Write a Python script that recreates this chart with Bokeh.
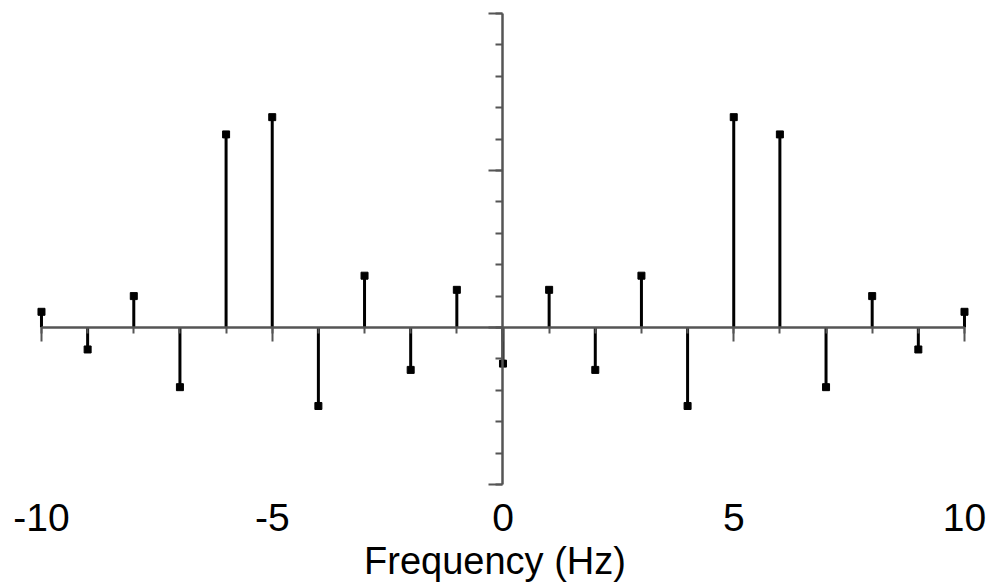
from bokeh.plotting import figure
from bokeh.models import Range1d, LinearAxis, FixedTicker
from bokeh.embed import file_html
from bokeh.resources import INLINE

# Data
freq = list(range(-10, 11))
amp = [0.10, -0.14, 0.20, -0.38, 1.23, 1.34, -0.50, 0.33, -0.27, 0.24, -0.23,
       0.24, -0.27, 0.33, -0.50, 1.34, 1.23, -0.38, 0.20, -0.14, 0.10]
zeros = [0.0] * len(freq)

x_tick_labels = [-10, -5, 0, 5, 10]
x_minor_ticks = list(range(-10, 11))
y_major_ticks = [-1, 0, 1, 2]
y_minor_ticks = [round(-1 + 0.2 * i, 1) for i in range(16)]

AXIS_COLOR = "#555555"
FONT = "Liberation Sans"

p = figure(width=989, height=587,
           x_range=Range1d(-10.888, 10.542),
           y_range=Range1d(-1.051, 2.083),
           x_axis_type=None, y_axis_type=None,
           output_backend="svg", toolbar_location=None,
           min_border_left=0, min_border_right=0, min_border_top=0,
           min_border_bottom=95)
p.outline_line_color = None
p.xgrid.visible = False
p.ygrid.visible = False
p.background_fill_color = "white"
p.border_fill_color = "white"

# stems and markers
p.segment(x0=freq, y0=zeros, x1=freq, y1=amp, line_color="black", line_width=3)
p.scatter(x=freq, y=amp, marker="square", size=7, color="black")


def tick_axis(ticks, length, draw_line):
    ax = LinearAxis(fixed_location=0,
                    ticker=FixedTicker(ticks=[], minor_ticks=ticks),
                    axis_line_color=AXIS_COLOR if draw_line else None,
                    axis_line_width=2.5,
                    major_tick_line_color=None,
                    minor_tick_line_color=AXIS_COLOR, minor_tick_line_width=2,
                    minor_tick_in=0, minor_tick_out=length)
    return ax


# horizontal axis through y = 0
xc1 = tick_axis(x_minor_ticks, 6, True)
xc1.bounds = (-10, 10)
xc2 = tick_axis(x_tick_labels, 14, False)
xc2.bounds = (-10, 10)
p.add_layout(xc1, "below")
p.add_layout(xc2, "below")

# vertical axis through x = 0
yc1 = tick_axis(y_minor_ticks, 7, True)
yc1.bounds = (-1, 2)
yc2 = tick_axis(y_major_ticks, 14, False)
yc2.bounds = (-1, 2)
p.add_layout(yc1, "left")
p.add_layout(yc2, "left")

# label axis at bottom
xb = LinearAxis(ticker=FixedTicker(ticks=x_tick_labels),
                axis_line_color=None, major_tick_line_color=None,
                minor_tick_line_color=None, major_tick_in=0, major_tick_out=0,
                major_label_standoff=11,
                major_label_overrides={t: str(t) for t in x_tick_labels},
                major_label_text_font=FONT, major_label_text_font_size="39px",
                major_label_text_color="black",
                axis_label="Frequency (Hz)", axis_label_standoff=6,
                axis_label_text_font=FONT, axis_label_text_font_size="38px",
                axis_label_text_font_style="normal", axis_label_text_color="black")
p.add_layout(xb, "below")

open("out.html", "w").write(file_html(p, INLINE))
